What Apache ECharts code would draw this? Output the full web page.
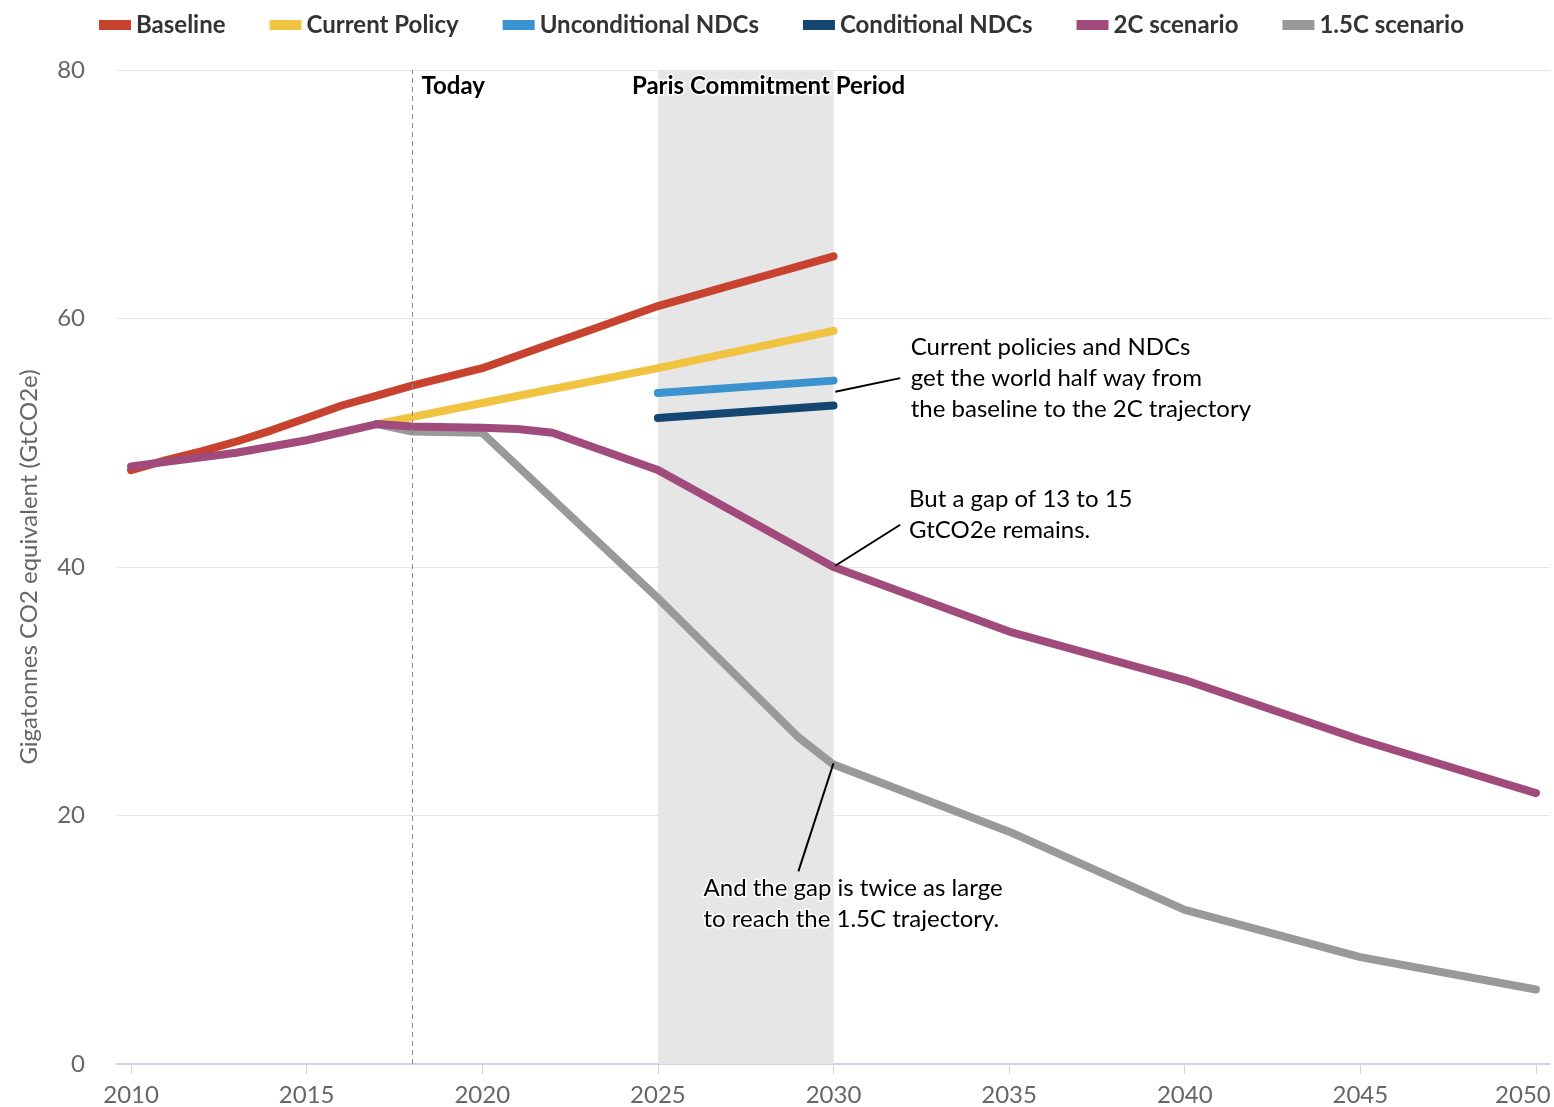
<!DOCTYPE html>
<html>
<head>
<meta charset="utf-8">
<script src="https://cdn.jsdelivr.net/npm/echarts@6/dist/echarts.min.js"></script>
<style>
html,body{margin:0;padding:0;background:#fff;}
#chart{width:1554px;height:1107px;}
</style>
</head>
<body>
<div id="chart"></div>
<script>
// ---- Data (GtCO2e) ----
var seriesNames = ['Baseline', 'Current Policy', 'Unconditional NDCs', 'Conditional NDCs', '2C scenario', '1.5C scenario'];
var seriesColors = ['#c8432f', '#f0c440', '#3a92cf', '#134670', '#a04b7b', '#999999'];

var baselineYears  = [2010, 2011, 2012, 2013, 2014, 2015, 2016, 2017, 2018, 2019, 2020, 2021, 2022, 2023, 2024, 2025, 2026, 2027, 2028, 2029, 2030];
var baselineValues = [47.8, 48.6, 49.3, 50.1, 51.0, 52.0, 53.0, 53.8, 54.6, 55.3, 56.0, 57.0, 58.0, 59.0, 60.0, 61.0, 61.8, 62.6, 63.4, 64.2, 65.0];

var currentYears  = [2017, 2020, 2025, 2030];
var currentValues = [51.5, 53.2, 56.0, 59.0];

var uncondYears  = [2025, 2030];
var uncondValues = [54.0, 55.0];

var condYears  = [2025, 2030];
var condValues = [52.0, 53.0];

var twoCYears  = [2010, 2013, 2015, 2017, 2018, 2020, 2021, 2022, 2025, 2030, 2035, 2040, 2045, 2050];
var twoCValues = [48.1, 49.2, 50.2, 51.5, 51.3, 51.2, 51.1, 50.8, 47.8, 40.0, 34.8, 30.9, 26.1, 21.8];

var oneFiveYears  = [2017, 2018, 2020, 2025, 2029, 2030, 2035, 2040, 2045, 2050];
var oneFiveValues = [51.5, 50.9, 50.8, 37.5, 26.3, 24.1, 18.7, 12.4, 8.6, 6.0];

var xTicks = [2010, 2015, 2020, 2025, 2030, 2035, 2040, 2045, 2050];
var todayYear = 2018;
var parisStart = 2025, parisEnd = 2030;

var notePolicy = ['Current policies and NDCs', 'get the world half way from', 'the baseline to the 2C trajectory'];
var noteGap2C = ['But a gap of 13 to 15', 'GtCO2e remains.'];
var noteGap15 = ['And the gap is twice as large', 'to reach the 1.5C trajectory.'];

// leader lines [[x1,y1],[x2,y2]] in data coordinates
var leaderPolicy = [[2030.05, 54.1], [2031.9, 55.2]];
var leaderGap2C  = [[2030.05, 40.1], [2031.9, 43.4]];
var leaderGap15  = [[2030.0, 24.2], [2029.0, 15.5]];

function pairs(xs, ys) { return xs.map(function (x, i) { return [x, ys[i]]; }); }

var FONT = 'Lato, "Open Sans", sans-serif';

var chart = echarts.init(document.getElementById('chart'));

function lineSeries(idx, xs, ys, z) {
  return {
    name: seriesNames[idx],
    type: 'line',
    data: pairs(xs, ys),
    symbol: 'none',
    z: z,
    lineStyle: { width: 8, color: seriesColors[idx], cap: 'round', join: 'round' },
    itemStyle: { color: seriesColors[idx] },
    emphasis: { disabled: true }
  };
}

var s15 = lineSeries(5, oneFiveYears, oneFiveValues, 2);
var s2c = lineSeries(4, twoCYears, twoCValues, 3);
var sBase = lineSeries(0, baselineYears, baselineValues, 2);
var sCur = lineSeries(1, currentYears, currentValues, 2);
var sUn = lineSeries(2, uncondYears, uncondValues, 2);
var sCo = lineSeries(3, condYears, condValues, 2);

sBase.markArea = {
  silent: true,
  itemStyle: { color: '#e6e6e6' },
  data: [[{ xAxis: parisStart }, { xAxis: parisEnd }]],
  label: { show: false }
};
sBase.markLine = {
  silent: true,
  symbol: 'none',
  label: { show: false },
  lineStyle: { color: '#888', type: [5, 4], width: 1 },
  data: [{ xAxis: todayYear }]
};

var leaders = {
  name: 'leaders',
  type: 'line',
  data: [],
  z: 4,
  markLine: {
    silent: true,
    symbol: 'none',
    label: { show: false },
    lineStyle: { color: '#000', type: 'solid', width: 2 },
    data: [
      [{ coord: leaderPolicy[0] }, { coord: leaderPolicy[1] }],
      [{ coord: leaderGap2C[0] }, { coord: leaderGap2C[1] }],
      [{ coord: leaderGap15[0] }, { coord: leaderGap15[1] }]
    ]
  }
};

var lastTick = xTicks[xTicks.length - 1];

var option = {
  animation: false,
  textStyle: { fontFamily: FONT },
  legend: {
    data: seriesNames,
    left: 94,
    top: 8,
    itemWidth: 32,
    itemHeight: 10,
    itemGap: 44,
    icon: 'rect',
    textStyle: { fontFamily: FONT, fontSize: 24, fontWeight: 'bold', color: '#333' }
  },
  grid: { left: 117, right: 4, top: 70, bottom: 43, containLabel: false, outerBoundsMode: 'none' },
  xAxis: {
    type: 'value',
    min: 2009.6,
    max: 2050.4,
    splitLine: { show: false },
    axisLine: { show: true, lineStyle: { color: '#ccd6eb', width: 2 } },
    axisTick: { show: true, length: 10, lineStyle: { color: '#ccd6eb', width: 1 }, customValues: xTicks },
    axisLabel: {
      customValues: xTicks, color: '#666', fontSize: 24, margin: 19, fontFamily: FONT,
      formatter: function (v) { return v === lastTick ? '{e|' + v + '}' : String(v); },
      rich: { e: { color: '#666', fontSize: 24, fontFamily: FONT, padding: [0, 26, 0, 0] } }
    }
  },
  yAxis: {
    type: 'value',
    min: 0,
    max: 80,
    interval: 20,
    name: 'Gigatonnes CO2 equivalent (GtCO2e)',
    nameLocation: 'middle',
    nameGap: 76,
    nameRotate: 90,
    nameTextStyle: { color: '#666', fontSize: 24, fontFamily: FONT },
    axisLine: { show: false },
    axisTick: { show: false },
    axisLabel: { color: '#666', fontSize: 24, margin: 32, fontFamily: FONT },
    splitLine: { lineStyle: { color: '#e6e6e6', width: 1 } }
  },
  series: [sBase, sCur, sUn, sCo, s2c, s15, leaders]
};

chart.setOption(option);

function px(x, y) { return chart.convertToPixel({ gridIndex: 0 }, [x, y]); }

function noteText(lines, x, y, opts) {
  var p = px(x, y);
  return {
    type: 'text',
    x: p[0], y: p[1],
    z: 100,
    style: Object.assign({
      text: lines.join('\n'),
      fontFamily: FONT,
      fontSize: 24,
      lineHeight: 31,
      fill: '#000',
      stroke: '#fff',
      lineWidth: 3,
      textVerticalAlign: 'top'
    }, opts || {})
  };
}

var topY = 80;
chart.setOption({
  graphic: [
    noteText(['Today'], todayYear + 0.27, topY - 0.05, { fontWeight: 'bold' }),
    noteText(['Paris Commitment Period'], parisStart - 0.74, topY - 0.05, { fontWeight: 'bold' }),
    noteText(notePolicy, 2032.2, 58.9),
    noteText(noteGap2C, 2032.15, 46.7),
    noteText(noteGap15, 2026.3, 15.4)
  ]
});
</script>
</body>
</html>
